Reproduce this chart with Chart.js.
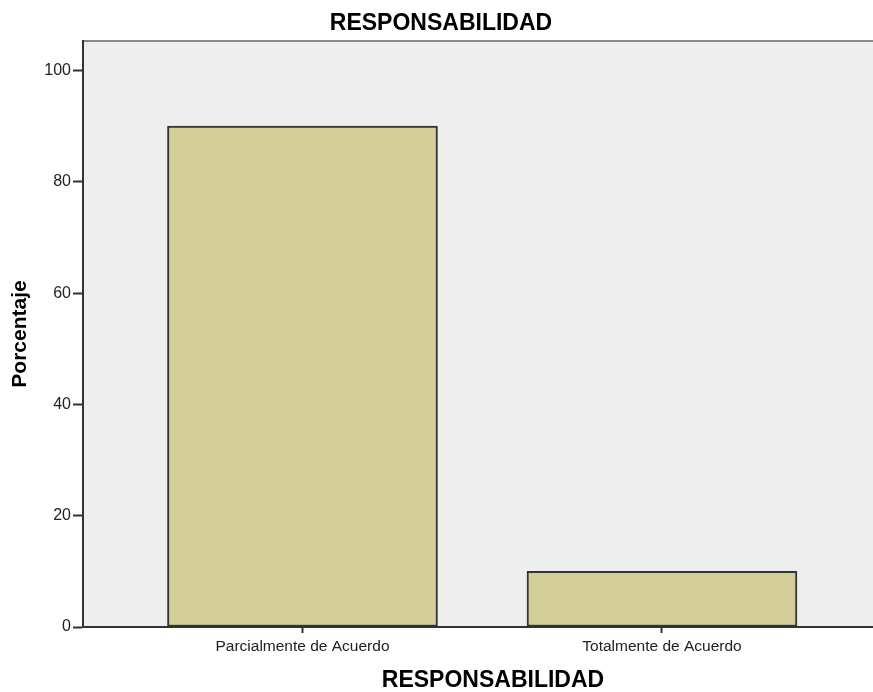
<!DOCTYPE html>
<html>
<head>
<meta charset="utf-8">
<title>RESPONSABILIDAD</title>
<script src="https://cdn.jsdelivr.net/npm/chart.js@4/dist/chart.umd.min.js"></script>
<style>
  html, body { margin: 0; padding: 0; background: #ffffff; }
  /* the original plot runs past the right edge of the picture, so crop it */
  #wrap { width: 873px; height: 692px; overflow: hidden; }
  #inner { width: 903px; height: 692px; }
</style>
</head>
<body>
<div id="wrap"><div id="inner"><canvas id="chart"></canvas></div></div>
<script>
const categories = ['Parcialmente de Acuerdo', 'Totalmente de Acuerdo'];
const percentages = [90, 10];
const yTicks = [0, 20, 40, 60, 80, 100];

const FONT = '"Liberation Sans", Arial, sans-serif';

// grey plot background + light top frame line, SPSS style
const plotBackground = {
    id: 'plotBackground',
    beforeDraw(chart) {
        const { ctx, chartArea } = chart;
        ctx.save();
        ctx.fillStyle = '#eeeeee';
        ctx.fillRect(chartArea.left, chartArea.top, chartArea.right - chartArea.left, chartArea.bottom - chartArea.top);
        ctx.strokeStyle = '#8a8a8a';
        ctx.lineWidth = 2;
        ctx.beginPath();
        ctx.moveTo(chartArea.left, chartArea.top);
        ctx.lineTo(chartArea.right, chartArea.top);
        ctx.stroke();
        ctx.restore();
    }
};

const ctx = document.getElementById('chart').getContext('2d');

new Chart(ctx, {
    type: 'bar',
    data: {
        datasets: [{
            label: 'Porcentaje',
            data: categories.map((c, i) => ({ x: i, y: percentages[i] })),
            backgroundColor: '#d3ce97',
            borderColor: '#333333',
            borderWidth: 2,
            borderSkipped: false,
            barThickness: 270,
        }],
    },
    options: {
        responsive: true,
        maintainAspectRatio: false,
        animation: false,
        layout: { padding: { left: -21, right: 0, top: 0, bottom: 0 } },
        scales: {
            x: {
                type: 'linear',
                offset: false,
                min: -0.6105,
                max: 1.6704,
                afterBuildTicks: (scale) => {
                    scale.ticks = categories.map((c, i) => ({ value: i }));
                },
                afterFit: (scale) => { scale.height = 65; },
                ticks: {
                    callback: (value) => categories[value] ?? '',
                    color: '#222222',
                    font: { family: FONT, size: 15.5 },
                    padding: 4,
                    maxRotation: 0,
                },
                grid: {
                    offset: false,
                    drawOnChartArea: false,
                    tickLength: 6,
                    tickWidth: 2,
                    tickColor: '#333333',
                },
                border: { color: '#333333', width: 2 },
                title: {
                    display: true,
                    text: 'RESPONSABILIDAD',
                    color: '#000000',
                    font: { family: FONT, size: 23, weight: 'bold', lineHeight: 1 },
                    padding: { top: 0, bottom: 0 },
                },
            },
            y: {
                min: 0,
                max: 105.3,
                afterBuildTicks: (scale) => {
                    scale.ticks = yTicks.map(v => ({ value: v }));
                },
                afterFit: (scale) => { scale.width = 104; },
                ticks: {
                    color: '#222222',
                    font: { family: FONT, size: 16 },
                    padding: 2,
                },
                grid: {
                    drawOnChartArea: false,
                    tickLength: 10,
                    tickWidth: 2,
                    tickColor: '#333333',
                },
                border: { color: '#333333', width: 2 },
                title: {
                    display: true,
                    text: 'Porcentaje',
                    color: '#000000',
                    font: { family: FONT, size: 21, weight: 'bold', lineHeight: 1.2 },
                    padding: { top: 29, bottom: 0 },
                },
            },
        },
        plugins: {
            legend: { display: false },
            tooltip: { enabled: false },
            title: {
                display: true,
                text: 'RESPONSABILIDAD',
                color: '#000000',
                font: { family: FONT, size: 23, weight: 'bold', lineHeight: 1.2 },
                padding: { top: 10, bottom: 3.4 },
            },
        },
    },
    plugins: [plotBackground],
});
</script>
</body>
</html>
